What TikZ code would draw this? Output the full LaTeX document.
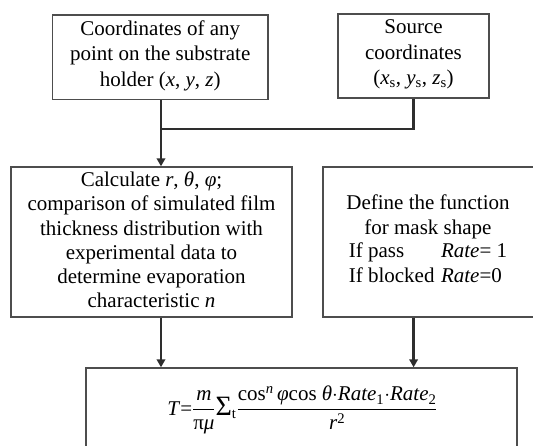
\documentclass[tikz,border=0pt]{standalone}
\usepackage{fontspec}
\setmainfont{Liberation Serif}
\usepackage{amsmath}
\usetikzlibrary{arrows.meta}
\definecolor{boxline}{HTML}{4D4D4D}
\definecolor{linkline}{HTML}{2E2E2E}
\newcommand\iv[1]{\textit{#1}}
\newcommand\tx[1]{\text{#1}}
\begin{document}
\begin{tikzpicture}[x=1pt,y=-1pt,
  box/.style={draw=boxline, line width=1.4pt, rectangle, inner sep=0pt},
  body/.style={align=center, font=\fontsize{21}{25.5}\selectfont, inner sep=0pt},
  link/.style={draw=linkline, line width=2.5pt},
  arr/.style={link, -{Triangle[length=8pt,width=8.5pt]}}]
\clip (0,0) rectangle (533,445);

% boxes and their texts
\node[box, minimum width=215.5, minimum height=84.5] (pt) at (160.25,57.25) {};
\node[body] at ([yshift=1.5]pt.center) {Coordinates of any\\point on the substrate\\holder (\iv{x}, \iv{y}, \iv{z})};

\node[box, minimum width=151, minimum height=84] (src) at (413.5,56) {};
\node[body] at ([yshift=1.5]src.center) {Source\\coordinates\\(\iv{x}\textsubscript{s}, \iv{y}\textsubscript{s}, \iv{z}\textsubscript{s})};

\node[box, minimum width=281, minimum height=150] (calc) at (151.5,242) {};
\node[body, font=\fontsize{21}{24.2}\selectfont] at ([yshift=2]calc.center) {Calculate \iv{r}, \iv{θ}, \iv{φ};\\comparison of simulated film\\thickness distribution with\\experimental data to\\determine evaporation\\characteristic \iv{n}};

\node[box, minimum width=212, minimum height=150] (mask) at (429,242) {};
\node[body] at (428,242.5) {Define the function\\for mask shape\\[-0.5pt]
  \begin{tabular}{@{}l@{\hspace{6.5pt}}l@{}}
  If pass & \iv{Rate}= 1\\[-0.5pt]
  If blocked & \iv{Rate}=0
  \end{tabular}};

\node[box, minimum width=431, minimum height=104] (res) at (301.5,420) {};
\node[anchor=base, inner sep=0pt, font=\fontsize{21}{25}\selectfont] (eq) at (302.5,415)
  {$\displaystyle \tx{\iv{T}}{\tx{=}}\frac{\tx{\iv{m}}}{\tx{π\iv{μ}}}\tx{\fontsize{28}{28}\selectfont Σ}_{\tx{t}}\frac{\tx{cos}^{\tx{\iv{n}}}\,\tx{\iv{φ}cos }\tx{\iv{θ}}{\cdot}\tx{\iv{Rate}}_{\tx{1}}{\cdot}\tx{\iv{Rate}}_{\tx{2}}}{\tx{\iv{r}}^{\tx{2}}}$};

% connectors
\coordinate (j) at (161,129);
\coordinate (ra) at (413.6,0);
\draw[link] (src.south -| ra) |- (j);
\draw[arr] (pt.south -| j) -- (calc.north -| j);
\draw[arr] (calc.south -| j) -- (res.north -| j);
\draw[arr] (mask.south -| ra) -- (res.north -| ra);
\end{tikzpicture}
\end{document}
